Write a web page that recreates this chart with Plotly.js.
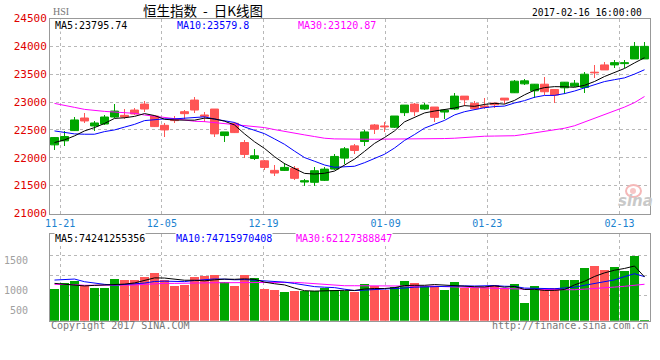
<!DOCTYPE html>
<html><head><meta charset="utf-8">
<script src="https://cdn.plot.ly/plotly-3.0.1.min.js"></script>
<style>html,body{margin:0;padding:0;background:#fff}#chart{width:660px;height:360px}</style>
</head><body><div id="chart"></div>
<script>
const dates = ['11-18','11-21','11-22','11-23','11-24','11-25','11-28','11-29','11-30','12-01',
 '12-02','12-05','12-06','12-07','12-08','12-09','12-12','12-13','12-14','12-15',
 '12-16','12-19','12-20','12-21','12-22','12-23','12-28','12-29','12-30','01-03',
 '01-04','01-05','01-06','01-09','01-10','01-11','01-12','01-13','01-16','01-17',
 '01-18','01-19','01-20','01-23','01-24','01-25','01-26','01-27','02-01','02-02',
 '02-03','02-06','02-07','02-08','02-09','02-10','02-13','02-14','02-15','02-16'];
const open = [22232,22304,22488,22714,22571,22607,22732,22762,22857,22964,
 22750,22583,22690,22827,23036,22768,22875,22399,22619,22274,
 21988,21946,21774,21774,21809,21565,21560,21595,21797,21994,
 22214,22292,22589,22571,22548,22810,22964,22875,22911,22821,
 22875,23107,22976,22929,22982,23071,23167,23327,23202,23321,
 23226,23256,23286,23262,23536,23667,23667,23690,23774,23774];
const high = [22375,22482,22726,22810,22667,22768,22964,22869,22893,23018,
 22768,22631,22750,22857,23083,22821,22881,22464,22643,22321,
 22161,21952,21875,21905,21845,21619,21827,21827,22071,22202,
 22244,22500,22607,22649,22756,22952,22982,22988,22917,22875,
 23167,23110,23012,23065,22985,23075,23393,23411,23321,23446,
 23230,23360,23405,23536,23667,23726,23762,23762,24071,24071];
const low = [22143,22220,22488,22631,22488,22589,22720,22690,22762,22827,
 22548,22369,22619,22690,22810,22643,22381,22292,22440,21988,
 21964,21786,21667,21756,21595,21488,21488,21577,21786,21881,
 22071,22220,22434,22470,22536,22756,22750,22857,22649,22702,
 22857,22929,22857,22869,22899,22964,23155,23315,23071,23125,
 22988,23143,23262,23167,23435,23571,23607,23607,23774,23774];
const close = [22363,22381,22679,22661,22625,22732,22839,22732,22786,22875,
 22560,22500,22667,22792,22857,22744,22429,22464,22452,22060,
 22036,21827,21726,21827,21631,21589,21768,21797,22024,22161,
 22131,22464,22512,22554,22750,22946,22827,22946,22726,22857,
 23107,23042,22881,22905,22952,23036,23375,23381,23321,23185,
 23125,23357,23339,23500,23524,23577,23708,23708,24000,24000];
const ma5 = [22274,22321,22393,22482,22542,22616,22707,22718,22743,22793,
 22758,22691,22678,22679,22675,22712,22698,22657,22589,22430,
 22288,22168,22020,21895,21809,21720,21708,21722,21762,21868,
 21976,22115,22258,22364,22482,22645,22718,22805,22839,22860,
 22893,22936,22923,22958,22977,22963,23030,23130,23213,23260,
 23277,23274,23265,23301,23369,23459,23530,23603,23703,23796];
const ma10 = [22482,22458,22429,22423,22423,22470,22500,22550,22600,22667,
 22687,22699,22698,22711,22734,22735,22694,22667,22634,22553,
 22500,22433,22339,22242,22120,22004,21938,21871,21829,21839,
 21848,21912,21990,22063,22175,22311,22417,22532,22602,22671,
 22769,22827,22864,22899,22919,22928,22983,23026,23086,23119,
 23120,23152,23198,23257,23314,23368,23402,23434,23502,23580];
const ma30 = [22976,22946,22905,22869,22845,22833,22821,22815,22798,22768,
 22750,22720,22702,22679,22655,22649,22631,22613,22595,22571,
 22560,22542,22506,22470,22440,22411,22381,22351,22339,22333,
 22333,22333,22333,22333,22333,22333,22333,22333,22339,22345,
 22351,22363,22381,22387,22390,22393,22396,22420,22445,22475,
 22500,22530,22575,22640,22710,22780,22845,22910,22990,23100];
const volume = [537,638,672,588,559,559,706,689,689,740,
 808,689,588,605,740,757,774,650,588,774,
 723,537,514,486,503,503,503,548,520,503,
 492,621,593,520,576,672,638,593,588,520,
 655,559,559,571,605,548,621,299,588,514,
 554,689,689,893,927,859,910,842,1096,11];
const vma5 = [633,616,600,590,599,603,617,620,640,677,
 726,723,703,686,686,676,693,705,702,709,
 702,654,627,607,553,509,502,509,515,515,
 513,537,546,546,560,596,600,600,613,602,
 599,583,576,573,590,568,581,529,532,514,
 515,529,607,668,750,811,856,886,927,742];
const vma10 = [689,700,706,661,638,616,605,610,625,638,
 665,670,662,663,681,701,708,704,694,697,
 689,674,666,654,631,605,578,568,561,534,
 511,519,527,531,538,555,568,573,580,581,
 598,591,588,593,596,584,582,553,553,552,
 542,555,568,600,632,663,692,747,797,747];
const vma30 = [616,616,610,600,599,599,599,599,605,616,
 627,633,633,638,644,644,644,644,644,644,
 644,650,655,655,650,640,630,620,600,593,
 593,593,593,593,593,596,593,588,585,578,
 571,565,559,554,548,542,537,535,531,527,
 522,520,525,535,543,555,570,583,600,618];
const tickDates = ['11-21','12-05','12-19','01-09','01-23','02-13'];
const priceTicks = [21000,21500,22000,22500,23000,23500,24000,24500];
const volTickText = ['1500','1000','500'];
const legendPrice = ['MA5:23795.74','MA10:23579.8','MA30:23120.87'];
const legendVol = ['MA5:74241255356','MA10:74715970408','MA30:62127388847'];

const UP = '#00a600', DOWN = '#ff5555';
const N = dates.length;
const idx = dates.map((d,i)=>i);
const isUp = idx.map(i => close[i] >= open[i]);
const cols = isUp.map(u => u ? UP : DOWN);
const mono = 'DejaVu Sans Mono, monospace';

const tickvals = tickDates.map(d => dates.indexOf(d) * 60/59 - 0.45);

const traces = [
  {type:'bar', x:idx, base:low, y:idx.map(i=>high[i]-low[i]), width:0.15,
   marker:{color:cols, line:{width:0}}, xaxis:'x', yaxis:'y', hoverinfo:'skip'},
  {type:'bar', x:idx, base:idx.map(i=>Math.min(open[i],close[i])),
   y:idx.map(i=>Math.abs(close[i]-open[i])), width:0.8,
   marker:{color:cols, line:{color:cols, width:1}}, xaxis:'x', yaxis:'y', hoverinfo:'skip'},
  {type:'scatter', mode:'lines', x:idx, y:ma30, line:{color:'#ff00ff', width:1}, xaxis:'x', yaxis:'y'},
  {type:'scatter', mode:'lines', x:idx, y:ma10, line:{color:'#0000ff', width:1}, xaxis:'x', yaxis:'y'},
  {type:'scatter', mode:'lines', x:idx, y:ma5, line:{color:'#000000', width:1}, xaxis:'x', yaxis:'y'},
  {type:'bar', x:idx, y:volume, width:0.9, marker:{color:cols, line:{width:0}}, xaxis:'x2', yaxis:'y2'},
  {type:'scatter', mode:'lines', x:idx, y:vma30, line:{color:'#ff00ff', width:1}, xaxis:'x2', yaxis:'y2'},
  {type:'scatter', mode:'lines', x:idx, y:vma10, line:{color:'#0000ff', width:1}, xaxis:'x2', yaxis:'y2'},
  {type:'scatter', mode:'lines', x:idx, y:vma5, line:{color:'#000000', width:1}, xaxis:'x2', yaxis:'y2'}
];

const W = 660, H = 360, L = 50, R = 10;
const px = v => (v - L) / (W - L - R);
const py = v => 1 - v / H;
const GRID = '#b8b8b8', FRAME = '#999999';

function ann(text, x, y, opt) {
  return Object.assign({text, x:px(x), y:py(y), xref:'paper', yref:'paper', showarrow:false,
    xanchor:'left', yanchor:'middle', font:{family:mono, size:10, color:'#000'}, borderpad:0}, opt||{});
}
const maCols = ['#000000','#0000ff','#ff00ff'];
const annotations = [
  ann('HSI', 52, 11.5, {font:{family:'Liberation Serif, serif', size:10, color:'#777'}}),
  ann('恒生指数\u00a0\u00a0-\u00a0\u00a0日K线图', 203, 10, {xanchor:'center', font:{family:'Noto Sans CJK SC, sans-serif', size:13.5, color:'#000'}}),
  ann('2017-02-16 16:00:00', 643, 12.5, {xanchor:'right', font:{family:mono, size:9.6, color:'#000'}}),
  ann(legendPrice[0], 54, 25.5, {bgcolor:'#fff', font:{family:mono, size:10, color:maCols[0]}}),
  ann(legendPrice[1], 176, 25.5, {bgcolor:'#fff', font:{family:mono, size:10, color:maCols[1]}}),
  ann(legendPrice[2], 297, 25.5, {bgcolor:'#fff', font:{family:mono, size:10, color:maCols[2]}}),
  ann(legendVol[0], 54, 238.5, {bgcolor:'#fff', font:{family:mono, size:10, color:maCols[0]}}),
  ann(legendVol[1], 175, 238.5, {bgcolor:'#fff', font:{family:mono, size:10, color:maCols[1]}}),
  ann(legendVol[2], 295, 238.5, {bgcolor:'#fff', font:{family:mono, size:10, color:maCols[2]}}),
  ann('Copyright 2017 SINA.COM', 50, 325, {font:{family:mono, size:10, color:'#777'}}),
  ann('http://finance.sina.com.cn', 650, 325, {xanchor:'right', font:{family:mono, size:10, color:'#777'}}),
  ann('<i><b>sina</b></i>', 635, 201, {xanchor:'center', font:{family:'DejaVu Sans, sans-serif', size:15, color:'#c9c9c9'}})
];
const shapes = [
  {type:'circle', xref:'paper', yref:'paper', x0:px(626), x1:px(641), y0:py(197), y1:py(185),
   line:{color:'#f5b8b8', width:2}, fillcolor:'rgba(0,0,0,0)', layer:'above'},
  {type:'circle', xref:'paper', yref:'paper', x0:px(630), x1:px(636), y0:py(194), y1:py(188),
   line:{width:0}, fillcolor:'#f7c6c6', layer:'above'}
];

const axBase = {showline:true, linecolor:FRAME, linewidth:1, mirror:true, zeroline:false,
  fixedrange:true, showgrid:true, gridcolor:GRID, griddash:'dot', gridwidth:1};
const layout = {
  width:W, height:H, margin:{l:L, r:R, t:0, b:0, autoexpand:false},
  paper_bgcolor:'#fff', plot_bgcolor:'#fff', showlegend:false, hovermode:false,
  barmode:'overlay', bargap:0,
  xaxis: Object.assign({}, axBase, {domain:[0,1], anchor:'y', range:[-0.45, N-0.45],
    tickmode:'array', tickvals:tickvals, ticktext:tickDates, ticks:'',
    tickfont:{family:mono, size:10, color:'#1a82cf'}}),
  yaxis: Object.assign({}, axBase, {domain:[py(213.5), py(18.5)], anchor:'x',
    range:[priceTicks[0], priceTicks[priceTicks.length-1]], tickmode:'array', tickvals:priceTicks,
    ticktext:priceTicks.map(String),
    ticks:'', tickfont:{family:mono, size:11, color:'#e00000'}}),
  xaxis2: Object.assign({}, axBase, {domain:[0,1], anchor:'y2', matches:'x',
    tickmode:'array', tickvals:tickvals, showticklabels:false, ticks:''}),
  yaxis2: Object.assign({}, axBase, {domain:[py(320.7), py(234)], anchor:'x2',
    range:[0, 1470], tickmode:'array', tickvals:[1017, 520, 181], ticktext:volTickText,
    showgrid:false, ticks:'outside', ticklen:19, tickcolor:'rgba(0,0,0,0)',
    tickfont:{family:mono, size:10, color:'#a0a0a0'},
    minor:{tickmode:'array', tickvals:[435, 774, 1113], showgrid:true, gridcolor:GRID, griddash:'dot', ticks:''}}),
  annotations, shapes
};
Plotly.newPlot('chart', traces, layout, {staticPlot:true, displayModeBar:false});
</script></body></html>
